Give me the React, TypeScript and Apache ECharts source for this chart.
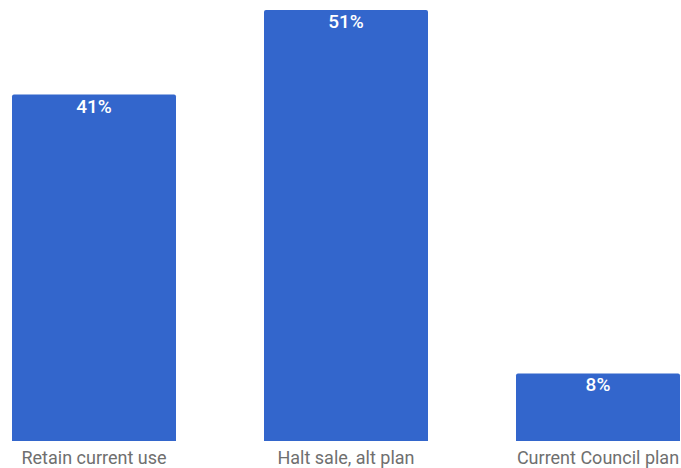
import React, { useEffect, useRef } from "react";
import * as echarts from "echarts";

const categories = ["Retain current use", "Halt sale, alt plan", "Current Council plan"];
const values = [41, 51, 8];

export default function App() {
  const ref = useRef<HTMLDivElement>(null);
  useEffect(() => {
    const chart = echarts.init(ref.current!, null, { renderer: "svg" });
    chart.setOption({
      animation: false,
      grid: {
        left: -32,
        width: 756,
        top: 10,
        bottom: 27,
        containLabel: false,
        outerBoundsMode: "none",
      },
      xAxis: {
        type: "category",
        data: categories,
        axisLine: { show: false },
        axisTick: { show: false },
        axisLabel: {
          color: "#6f6f6f",
          fontFamily: "Roboto",
          fontSize: 18,
          margin: 7,
        },
      },
      yAxis: {
        type: "value",
        min: 0,
        max: 51,
        show: false,
        splitLine: { show: false },
      },
      series: [
        {
          type: "bar",
          data: values,
          barWidth: 164,
          itemStyle: { color: "#3366CC", borderRadius: [2, 2, 0, 0] },
          label: {
            show: true,
            position: "insideTop",
            distance: 2,
            color: "#ffffff",
            fontFamily: "Roboto",
            fontSize: 19,
            fontWeight: 500,
            formatter: (p: any) => p.value + "%",
          },
        },
      ],
    });
    return () => chart.dispose();
  }, []);
  return (
    <div
      ref={ref}
      style={{ position: "fixed", left: 0, top: 0, width: 681, height: 468, background: "#fff" }}
    />
  );
}
